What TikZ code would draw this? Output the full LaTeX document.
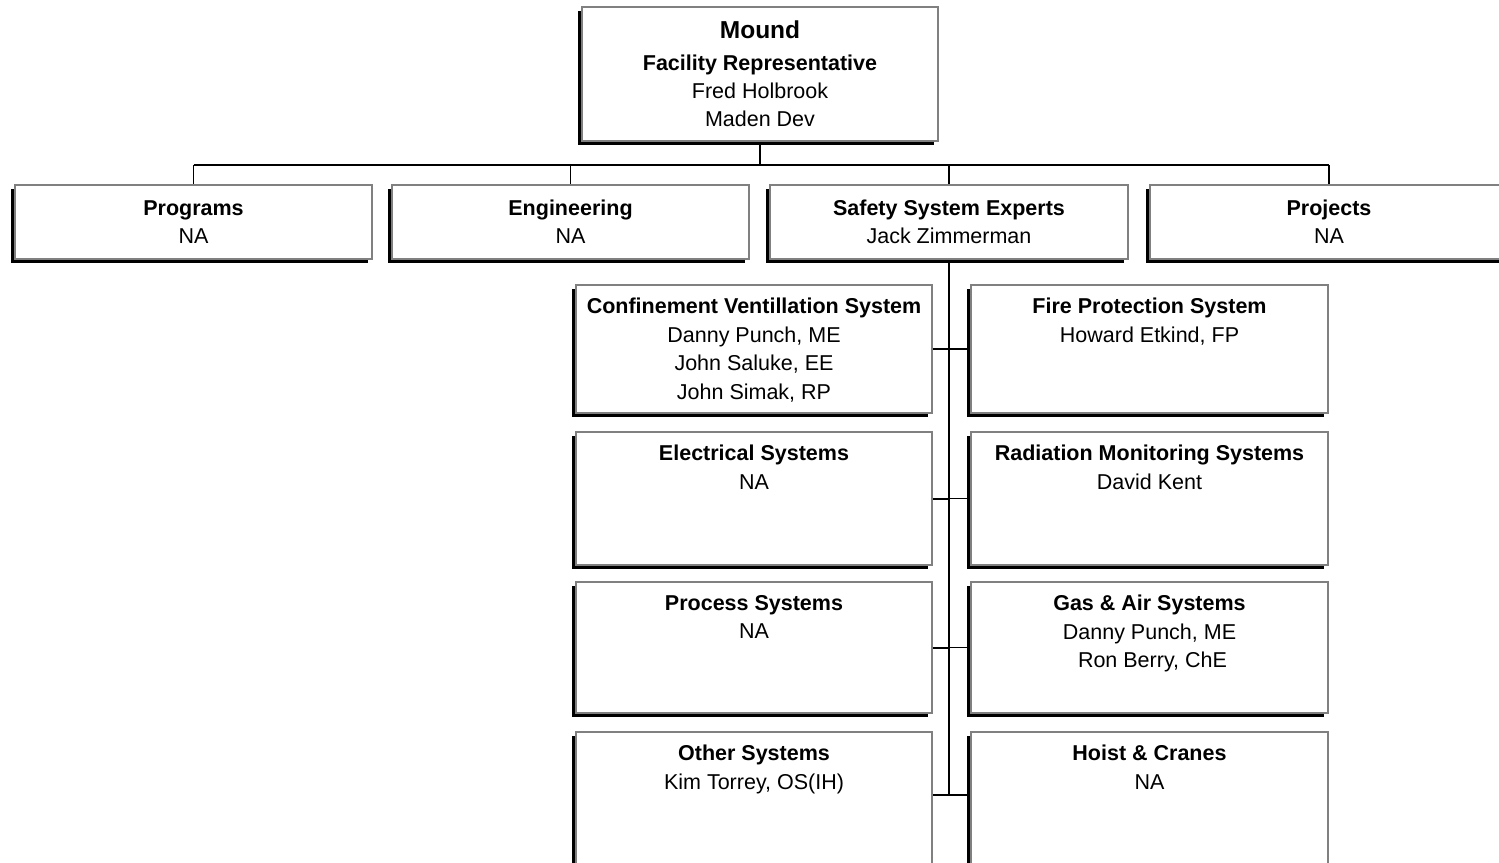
\documentclass[tikz,border=0pt]{standalone}
\usepackage{fontspec}
\setmainfont{Liberation Sans}
\usetikzlibrary{shadows}
\tikzset{
  orgbox/.style={draw=gray, line width=2pt, fill=white, rectangle, inner sep=0pt, align=center,
    drop shadow={shadow xshift=-4pt, shadow yshift=-4pt, fill=black, opacity=1},
    font=\fontsize{21.5}{28}\selectfont},
  boxlabel/.style={anchor=north, inner sep=0pt, align=center, font=\fontsize{21.5}{28.5}\selectfont},
  thick line/.style={line width=2.5pt, black},
  thin line/.style={line width=1.4pt, black},
  mid line/.style={line width=2pt, black}
}
\begin{document}
\begin{tikzpicture}[x=1pt,y=-1pt]
\useasboundingbox (0,0) rectangle (1499,862);
\clip (0,0) rectangle (1499,862);
% top box
\node[orgbox, minimum width=356pt, minimum height=134pt] (top) at (760,74)
 {{\fontsize{24.5}{34}\selectfont\bfseries Mound}\\[4pt]\textbf{Facility Representative}\\Fred Holbrook\\Maden Dev};
% second row
\node[orgbox, minimum width=357pt, minimum height=74pt] (prog) at (193.5,222) {\textbf{Programs}\\NA};
\node[orgbox, minimum width=357pt, minimum height=74pt] (eng) at (570.5,222) {\textbf{Engineering}\\NA};
\node[orgbox, minimum width=358pt, minimum height=74pt] (safe) at (949,222) {\textbf{Safety System Experts}\\Jack Zimmerman};
\node[orgbox, minimum width=358pt, minimum height=74pt] (proj) at (1329,222) {\textbf{Projects}\\NA};
% sub boxes
\node[orgbox, minimum width=356pt, minimum height=128pt] (cvs) at (754,349) {};
\node[orgbox, minimum width=357pt, minimum height=128pt] (fps) at (1149.5,349) {};
\node[orgbox, minimum width=356pt, minimum height=133pt] (els) at (754,498.5) {};
\node[orgbox, minimum width=357pt, minimum height=133pt] (rms) at (1149.5,498.5) {};
\node[orgbox, minimum width=356pt, minimum height=131pt] (prs) at (754,647.5) {};
\node[orgbox, minimum width=357pt, minimum height=131pt] (gas) at (1149.5,647.5) {};
\node[orgbox, minimum width=356pt, minimum height=150pt, anchor=north] (oth) at (754,731) {};
\node[orgbox, minimum width=357pt, minimum height=150pt, anchor=north] (hoi) at (1149.5,731) {};
% labels
\node[boxlabel] (lcvs) at ([yshift=-14pt]cvs.north) {\textbf{Confinement Ventillation System}\\Danny Punch, ME\\John Saluke, EE\\John Simak, RP};
\node[boxlabel] (lfps) at ([yshift=-14pt]fps.north) {\textbf{Fire Protection System}\\Howard Etkind, FP};
\node[boxlabel] (lels) at ([yshift=-14pt]els.north) {\textbf{Electrical Systems}\\NA};
\node[boxlabel] (lrms) at ([yshift=-14pt]rms.north) {\textbf{Radiation Monitoring Systems}\\David Kent};
\node[boxlabel] (lprs) at ([yshift=-14pt]prs.north) {\textbf{Process Systems}\\NA};
\node[boxlabel] (lgas) at ([yshift=-14pt]gas.north) {\textbf{Gas \& Air Systems}\\Danny Punch, ME\\\ Ron Berry, ChE};
\node[boxlabel] (loth) at ([yshift=-14pt]oth.north) {\textbf{Other Systems}\\Kim Torrey, OS(IH)};
\node[boxlabel] (lhoi) at ([yshift=-14pt]hoi.north) {\textbf{Hoist \& Cranes}\\NA};
% connectors top
\coordinate (hub) at (760,165);
\coordinate (hl) at (prog.north |- hub);
\coordinate (hr) at (proj.north |- hub);
\draw[mid line] (top.south) -- (hub);
\draw[thick line] (hl) -- (hr);
\draw[thin line] (hl) -- (prog.north);
\draw[thin line] (eng.north |- hub) -- (eng.north);
\draw[thin line] (safe.north |- hub) -- (safe.north);
\draw[thin line] (hr) -- (proj.north);
% safety spine
\coordinate (row4) at (0,795);
\coordinate (sp1) at (safe.south |- cvs.east);
\coordinate (sp2) at (safe.south |- els.east);
\coordinate (sp3) at (safe.south |- prs.east);
\coordinate (sp4) at (safe.south |- row4);
\draw[mid line] (safe.south) -- (sp4);
\draw[mid line] (cvs.east) -- (sp1);
\draw[thin line] (sp1) -- (fps.west);
\draw[mid line] (els.east) -- (sp2);
\draw[thin line] (sp2) -- (rms.west);
\draw[mid line] (prs.east) -- (sp3);
\draw[thin line] (sp3) -- (gas.west);
\draw[mid line] (oth.east |- sp4) -- (sp4);
\draw[thin line] (sp4) -- (hoi.west |- sp4);
\end{tikzpicture}
\end{document}
